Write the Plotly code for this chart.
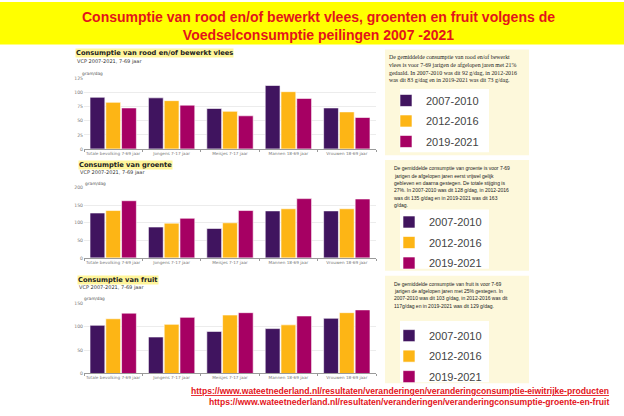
import plotly.graph_objects as go

W, H = 624, 416

categories = ["Totale bevolking 7-69 jaar", "Jongens 7-17 jaar", "Meisjes 7-17 jaar",
              "Mannen 18-69 jaar", "Vrouwen 18-69 jaar"]
periods = ["2007-2010", "2012-2016", "2019-2021"]
colors = ["#40145F", "#FDB515", "#A60063"]

vlees_2007 = [92, 91, 72, 113, 73]
vlees_2012 = [83, 86, 67, 102, 66]
vlees_2019 = [73, 78, 59, 90, 56]

groente_2007 = [128, 88, 84, 134, 134]
groente_2012 = [135, 99, 100, 140, 140]
groente_2019 = [163, 113, 135, 169, 168]

fruit_2007 = [103, 78, 90, 96, 118]
fruit_2012 = [117, 105, 125, 104, 130]
fruit_2019 = [129, 120, 130, 123, 136]

y_ticks_vlees = [0, 25, 50, 75, 100, 125]
y_ticks_groente = [0, 50, 100, 150, 200]
y_ticks_fruit = [0, 50, 100, 150]

main_title = "Consumptie van rood en/of bewerkt vlees, groenten en fruit volgens de<br>Voedselconsumptie peilingen 2007 -2021"
chart_titles = ["Consumptie van rood en/of bewerkt vlees", "Consumptie van groente", "Consumptie van fruit"]
subtitle = "VCP 2007-2021, 7-69 jaar"
unit = "gram/dag"

text_vlees = ["De gemiddelde consumptie van rood en/of bewerkt",
              "vlees is voor 7-69 jarigen de afgelopen jaren met 21%",
              "gedaald. In 2007-2010 was dit 92 g/dag, in 2012-2016",
              "was dit 83 g/dag en in 2019-2021 was dit 73 g/dag."]
text_groente = ["De gemiddelde consumptie van groente is voor 7-69",
                "jarigen de afgelopen jaren eerst vrijwel gelijk",
                "gebleven en daarna gestegen. De totale stijging is",
                "27%. In 2007-2010 was dit 128 g/dag, in 2012-2016",
                "was dit 135 g/dag en in 2019-2021 was dit 163",
                "g/dag."]
text_fruit = ["De gemiddelde consumptie van fruit is voor 7-69",
              "jarigen de afgelopen jaren met 25% gestegen. In",
              "2007-2010 was dit 103 g/dag, in 2012-2016 was dit",
              "117g/dag en in 2019-2021 was dit 129 g/dag."]
urls = ["https://www.wateetnederland.nl/resultaten/veranderingen/veranderingconsumptie-eiwitrijke-producten",
        "https://www.wateetnederland.nl/resultaten/veranderingen/veranderingconsumptie-groente-en-fruit"]


def px(x):
    return x / W


def py(y):
    return 1 - y / H


fig = go.Figure()

charts = [
    ([vlees_2007, vlees_2012, vlees_2019], "x", "y", "legend"),
    ([groente_2007, groente_2012, groente_2019], "x2", "y2", "legend2"),
    ([fruit_2007, fruit_2012, fruit_2019], "x3", "y3", "legend3"),
]
for ci, (series, xa, ya, lg) in enumerate(charts):
    for si, vals in enumerate(series):
        fig.add_trace(go.Bar(
            x=categories, y=vals, name=periods[si], xaxis=xa, yaxis=ya,
            marker=dict(color=colors[si], line=dict(color="white", width=0.6)),
            legend=lg, legendgroup=f"g{ci}{si}", showlegend=True,
            hovertemplate="%{x}<br>" + periods[si] + ": %{y} gram/dag<extra></extra>",
        ))

xdom = [px(84), px(376)]
ydoms = [[py(148.7), py(77.7)], [py(259), py(188)], [py(376), py(305)]]
yranges = [[0, 125], [0, 200], [0, 150]]
yticks = [y_ticks_vlees, y_ticks_groente, y_ticks_fruit]

xaxis_font = dict(family="DejaVu Sans", size=4.2, color="#7a7a7a")
yaxis_font = dict(family="DejaVu Sans", size=4.6, color="#7a7a7a")
layout_axes = {}
for i in range(3):
    sfx = "" if i == 0 else str(i + 1)
    layout_axes["xaxis" + sfx] = dict(
        domain=xdom, anchor="y" + sfx, showgrid=False, showline=True,
        linecolor="#9a9a9a", linewidth=0.6, ticks="outside", tickson="boundaries",
        ticklen=2, tickcolor="#9a9a9a", tickwidth=0.6, tickfont=xaxis_font,
        tickangle=0, fixedrange=True)
    layout_axes["yaxis" + sfx] = dict(
        domain=ydoms[i], anchor="x" + sfx, range=yranges[i], tickvals=yticks[i],
        showgrid=True, gridcolor="#ececec", gridwidth=0.6, zeroline=False,
        showline=False, ticks="", tickfont=yaxis_font, fixedrange=True)

shapes = [
    dict(type="rect", xref="paper", yref="paper", x0=0, x1=1, y0=py(43), y1=1,
         fillcolor="#FFFF00", line=dict(width=0), layer="below"),
]
cream = "#FDF8DB"
for (y0, y1) in [(48, 155), (160, 272), (277, 386)]:
    shapes.append(dict(type="rect", xref="paper", yref="paper", x0=px(385), x1=px(529),
                       y0=py(y1), y1=py(y0), fillcolor=cream, line=dict(width=0), layer="below"))
for (y0, y1) in [(88, 152), (210, 270), (323, 385)]:
    shapes.append(dict(type="rect", xref="paper", yref="paper", x0=px(400), x1=px(489),
                       y0=py(y1), y1=py(y0), fillcolor="white", line=dict(width=0), layer="below"))

annotations = [
    dict(text="<b>" + main_title + "</b>", x=px(318), y=py(24), xref="paper", yref="paper",
         showarrow=False, xanchor="center", yanchor="middle",
         font=dict(family="Liberation Sans", size=14, color="#E3141B")),
]
title_pos = [(75, 51.5, 60.5, 72.7), (78, 164.5, 172.5, 183.3), (77, 281, 289, 300)]
for i, (x0, yt, ys, yu) in enumerate(title_pos):
    annotations.append(dict(text="<b>" + chart_titles[i] + "</b>", x=px(x0), y=py(yt),
                            xref="paper", yref="paper", showarrow=False, xanchor="left",
                            yanchor="middle", bgcolor="#FFF59A", borderpad=0,
                            font=dict(family="DejaVu Sans", size=6.7, color="#222")))
    annotations.append(dict(text=subtitle, x=px(x0), y=py(ys), xref="paper", yref="paper",
                            showarrow=False, xanchor="left", yanchor="middle",
                            font=dict(family="DejaVu Sans", size=5, color="#333")))
    annotations.append(dict(text=unit, x=px(x0 + 5), y=py(yu), xref="paper", yref="paper",
                            showarrow=False, xanchor="left", yanchor="middle",
                            font=dict(family="DejaVu Sans", size=4.3, color="#555")))

for i, line in enumerate(text_vlees):
    annotations.append(dict(text=line, x=px(387), y=py(55.7 + i * 7.9), xref="paper", yref="paper",
                            showarrow=False, xanchor="left", yanchor="middle",
                            font=dict(family="Liberation Serif", size=5.9, color="#222")))
for i, line in enumerate(text_groente):
    annotations.append(dict(text=line, x=px(391.5), y=py(168.3 + i * 7.45), xref="paper", yref="paper",
                            showarrow=False, xanchor="left", yanchor="middle",
                            font=dict(family="Liberation Sans", size=5, color="#222")))
for i, line in enumerate(text_fruit):
    annotations.append(dict(text=line, x=px(391.5), y=py(285.7 + i * 7.2), xref="paper", yref="paper",
                            showarrow=False, xanchor="left", yanchor="middle",
                            font=dict(family="Liberation Sans", size=5, color="#222")))

annotations.append(dict(text="<b><u>" + urls[0] + "</u></b>", x=px(611), y=py(393.5), xref="paper",
                        yref="paper", showarrow=False, xanchor="right", yanchor="middle",
                        font=dict(family="Liberation Sans", size=8.6, color="#E3141B")))
annotations.append(dict(text="<b>" + urls[1] + "</b>", x=px(611), y=py(404.5), xref="paper",
                        yref="paper", showarrow=False, xanchor="right", yanchor="middle",
                        font=dict(family="Liberation Sans", size=8.6, color="#E3141B")))

legend_common = dict(bgcolor="rgba(0,0,0,0)", font=dict(family="Liberation Sans", size=11, color="#444"),
                     itemwidth=30, traceorder="grouped", tracegroupgap=1.5, xanchor="left", yanchor="top",
                     itemclick=False, itemdoubleclick=False)
legends = {}
for name, xl, ytop in [("legend", 386, 85), ("legend2", 389, 208), ("legend3", 389, 323)]:
    legends[name] = dict(legend_common, x=px(xl), y=py(ytop))

fig.update_layout(
    width=W, height=H, margin=dict(l=0, r=0, t=0, b=0),
    paper_bgcolor="white", plot_bgcolor="white",
    barmode="group", bargap=0.19, bargroupgap=0.06,
    shapes=shapes, annotations=annotations, showlegend=True,
    **layout_axes, **legends,
)

fig.write_html("out.html", config={"displayModeBar": False},
               post_script="document.body.style.margin='0';document.body.style.overflow='hidden';")
